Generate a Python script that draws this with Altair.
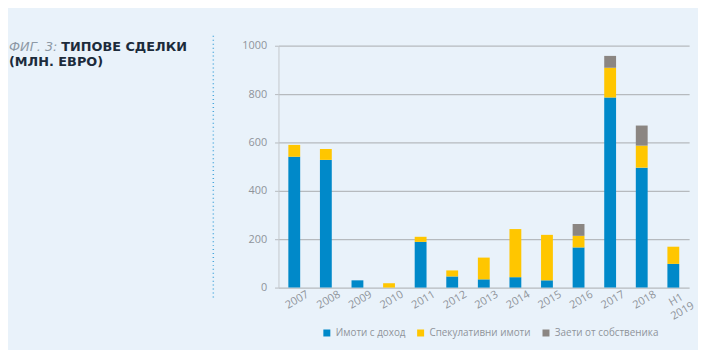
import altair as alt
import pandas as pd

years = ["2007", "2008", "2009", "2010", "2011", "2012", "2013", "2014",
         "2015", "2016", "2017", "2018", "H1 2019"]
series = ["Имоти с доход", "Спекулативни имоти", "Заети от собственика"]
income = [541, 528, 30, 0, 189, 46, 34, 43, 30, 166, 786, 496, 98]
speculative = [49, 45, 0, 18, 21, 25, 90, 199, 188, 48, 123, 91, 71]
owner = [0, 0, 0, 0, 0, 0, 0, 0, 0, 49, 49, 83, 0]
colors = ["#0089c9", "#ffc600", "#8b8682"]

rows = []
for i, y in enumerate(years):
    for k, (s, vals) in enumerate(zip(series, [income, speculative, owner])):
        rows.append({"year": y, "series": s, "value": vals[i], "idx": k})
df = pd.DataFrame(rows)

W, H = 416, 245
font = "Open Sans"
tfont = "DejaVu Sans"

bars = alt.Chart(df).mark_bar(size=12).encode(
    x=alt.X("year:N", sort=years, title=None,
            scale=alt.Scale(paddingInner=0.62, paddingOuter=0.31),
            axis=alt.Axis(labelAngle=-30, labelAlign="center", labelBaseline="top",
                          labelPadding=7, domain=False, ticks=False,
                          labelColor="#8f949a", labelFontSize=11, labelFont=font,
                          labelExpr="datum.label == 'H1 2019' ? ['H1', '2019'] : datum.label")),
    y=alt.Y("value:Q", stack="zero", title=None,
            scale=alt.Scale(domain=[0, 1000], nice=False),
            axis=alt.Axis(values=[0, 200, 400, 600, 800, 1000], format="d", grid=True,
                          gridColor="#b6babe", gridWidth=1.3, domainColor="#c3c7cb",
                          tickColor="#b6babe", tickSize=4, labelPadding=8,
                          labelColor="#8f949a", labelFontSize=11, labelFont=font)),
    color=alt.Color("series:N", sort=series,
                    scale=alt.Scale(domain=series, range=colors),
                    legend=alt.Legend(title=None, orient="none", direction="horizontal",
                                      legendX=44, legendY=286, symbolType="square",
                                      symbolSize=50, symbolStrokeWidth=0,
                                      labelColor="#8f949a", labelFontSize=10,
                                      labelFont=font, columnPadding=10, labelOffset=4)),
    order=alt.Order("idx:Q", sort="ascending"),
)

t1 = alt.Chart(pd.DataFrame({"t": ["ФИГ. 3:"]})).mark_text(
    align="left", baseline="alphabetic", fontStyle="italic", fontSize=13,
    font=tfont, color="#8d99a6").encode(text="t:N", x=alt.value(-273), y=alt.value(5))
t2 = alt.Chart(pd.DataFrame({"t": ["ТИПОВЕ СДЕЛКИ"]})).mark_text(
    align="left", baseline="alphabetic", fontWeight="bold", fontSize=13,
    font=tfont, color="#1c2b3b").encode(text="t:N", x=alt.value(-220), y=alt.value(5))
t3 = alt.Chart(pd.DataFrame({"t": ["(МЛН. ЕВРО)"]})).mark_text(
    align="left", baseline="alphabetic", fontWeight="bold", fontSize=13,
    font=tfont, color="#1c2b3b").encode(text="t:N", x=alt.value(-273), y=alt.value(21))
dots = alt.Chart(pd.DataFrame({"a": [0]})).mark_rule(
    color="#4aa8dc", strokeDash=[1, 3], strokeWidth=1.5).encode(
    x=alt.value(-66), y=alt.value(-10), y2=alt.value(258))

chart = alt.layer(bars, t1, t2, t3, dots).properties(
    width=W, height=H, background="#e9f2fa",
    padding={"left": 1, "top": 25, "right": 2, "bottom": 10},
).configure_view(stroke=None)

chart.save("out.html", embed_options={"renderer": "svg", "actions": False})
